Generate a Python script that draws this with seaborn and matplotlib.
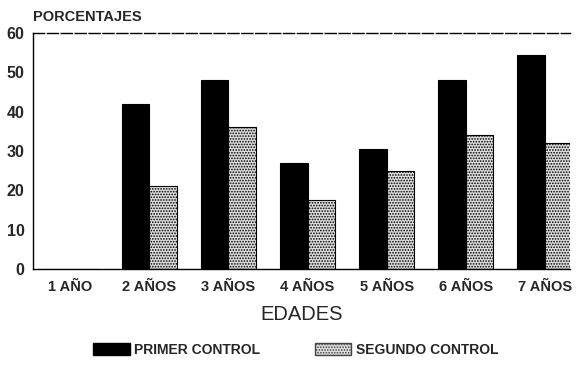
import matplotlib
matplotlib.use("Agg")
import matplotlib.pyplot as plt
import matplotlib.patches as mpatches
import seaborn as sns
import pandas as pd

edades = ["1 AÑO", "2 AÑOS", "3 AÑOS", "4 AÑOS", "5 AÑOS", "6 AÑOS", "7 AÑOS"]
primer_control = [0, 42, 48, 27, 30.5, 48, 54.5]
segundo_control = [0, 21, 36, 17.5, 25, 34, 32]
series = ["PRIMER CONTROL", "SEGUNDO CONTROL"]
yticks = [0, 10, 20, 30, 40, 50, 60]

df = pd.DataFrame({
    "edad": edades * 2,
    "valor": primer_control + segundo_control,
    "serie": [series[0]] * len(edades) + [series[1]] * len(edades),
})

sns.set_style("white")
plt.rcParams["font.family"] = ["Liberation Sans", "DejaVu Sans"]
plt.rcParams["hatch.color"] = "#444444"
plt.rcParams["hatch.linewidth"] = 0.8

fig = plt.figure(figsize=(5.8, 3.7), dpi=100)
ax = fig.add_axes([0.057, 0.273, 0.926, 0.638])

sns.barplot(data=df, x="edad", y="valor", hue="serie", order=edades,
            hue_order=series, palette=["black", "#dcdcdc"], width=0.7,
            gap=0.0, legend=False, ax=ax, saturation=1)

n = len(edades)
for i, bar in enumerate(ax.patches[:2 * n]):
    bar.set_edgecolor("black")
    bar.set_linewidth(0.8)
    if i >= n:
        bar.set_hatch("......")

ax.set_xlim(-0.47, n - 1 + 0.32)
ax.set_ylim(0, 60)
ax.set_yticks(yticks)
ax.set_yticklabels([str(t) for t in yticks], fontsize=11.5, fontweight="bold")
ax.tick_params(axis="y", direction="in", length=3, width=0.8, pad=6)
ax.tick_params(axis="x", length=0, pad=8)
for lbl in ax.get_xticklabels():
    lbl.set_fontsize(10.5)
    lbl.set_fontweight("bold")

for side in ["left", "bottom", "top"]:
    ax.spines[side].set_visible(True)
    ax.spines[side].set_color("black")
    ax.spines[side].set_linewidth(1.0)
ax.spines["top"].set_linestyle((0, (8, 2)))
ax.spines["right"].set_visible(False)

ax.set_ylabel("")
ax.set_xlabel("EDADES", fontsize=14.5, labelpad=8)
fig.text(0.057, 0.935, "PORCENTAJES", fontsize=10.5, fontweight="bold",
         ha="left", va="bottom")

handles = [
    mpatches.Patch(facecolor="black", edgecolor="black", label=series[0]),
    mpatches.Patch(facecolor="#dcdcdc", edgecolor="#444444", hatch="......",
                   label=series[1]),
]
fig.legend(handles=handles, loc="center", bbox_to_anchor=(0.51, 0.055),
           ncol=2, frameon=False, handlelength=2.6,
           handleheight=1.0, columnspacing=4.0, handletextpad=0.3,
           prop={"weight": "bold", "size": 10})

fig.savefig("out.png", dpi=100)
